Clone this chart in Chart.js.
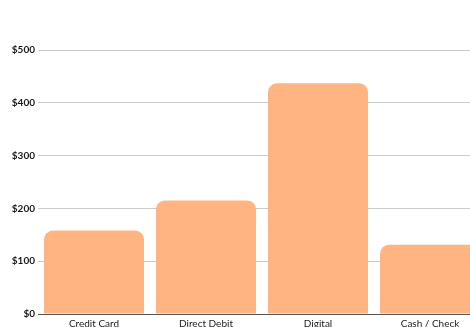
<!DOCTYPE html>
<html>
<head>
<meta charset="utf-8">
<script src="https://cdn.jsdelivr.net/npm/chart.js@4/dist/chart.umd.min.js"></script>
<style>
  html, body { margin: 0; padding: 0; overflow: hidden; background: #fff; width: 470px; height: 327px; }
  #wrap { width: 486px; height: 338px; position: relative; }
</style>
</head>
<body>
<div id="wrap"><canvas id="c" width="486" height="338"></canvas></div>
<script>
const categories = ["Credit Card", "Direct Debit", "Digital", "Cash / Check"];
const amounts = [158, 215, 437, 131];
const yTicks = [0, 100, 200, 300, 400, 500];

new Chart(document.getElementById('c'), {
  type: 'bar',
  data: {
    labels: categories,
    datasets: [{
      data: amounts,
      backgroundColor: '#FFB482',
      borderRadius: { topLeft: 9, topRight: 9, bottomLeft: 0, bottomRight: 0 },
      borderSkipped: false,
      categoryPercentage: 1,
      barPercentage: 0.893
    }]
  },
  options: {
    responsive: false,
    animation: false,
    devicePixelRatio: 1,
    layout: { padding: { top: 50, right: 0, bottom: 4, left: 0 } },
    plugins: { legend: { display: false }, tooltip: { enabled: false } },
    scales: {
      x: {
        grid: { display: false, drawTicks: false },
        border: { display: true, color: '#555', width: 1 },
        ticks: { color: '#1a1a1a', padding: 4, font: { family: 'Lato', size: 10 }, maxRotation: 0 }
      },
      y: {
        min: yTicks[0],
        max: yTicks[yTicks.length - 1],
        afterFit: s => { s.width = 38; },
        afterBuildTicks: s => { s.ticks = yTicks.map(v => ({ value: v })); },
        grid: { color: '#cccccc', lineWidth: 1, drawTicks: false },
        border: { display: false },
        ticks: {
          color: '#1a1a1a', padding: 3,
          font: { family: 'Lato', size: 10, weight: 'bold' },
          callback: v => '$' + v
        }
      }
    }
  }
});
</script>
</body>
</html>
